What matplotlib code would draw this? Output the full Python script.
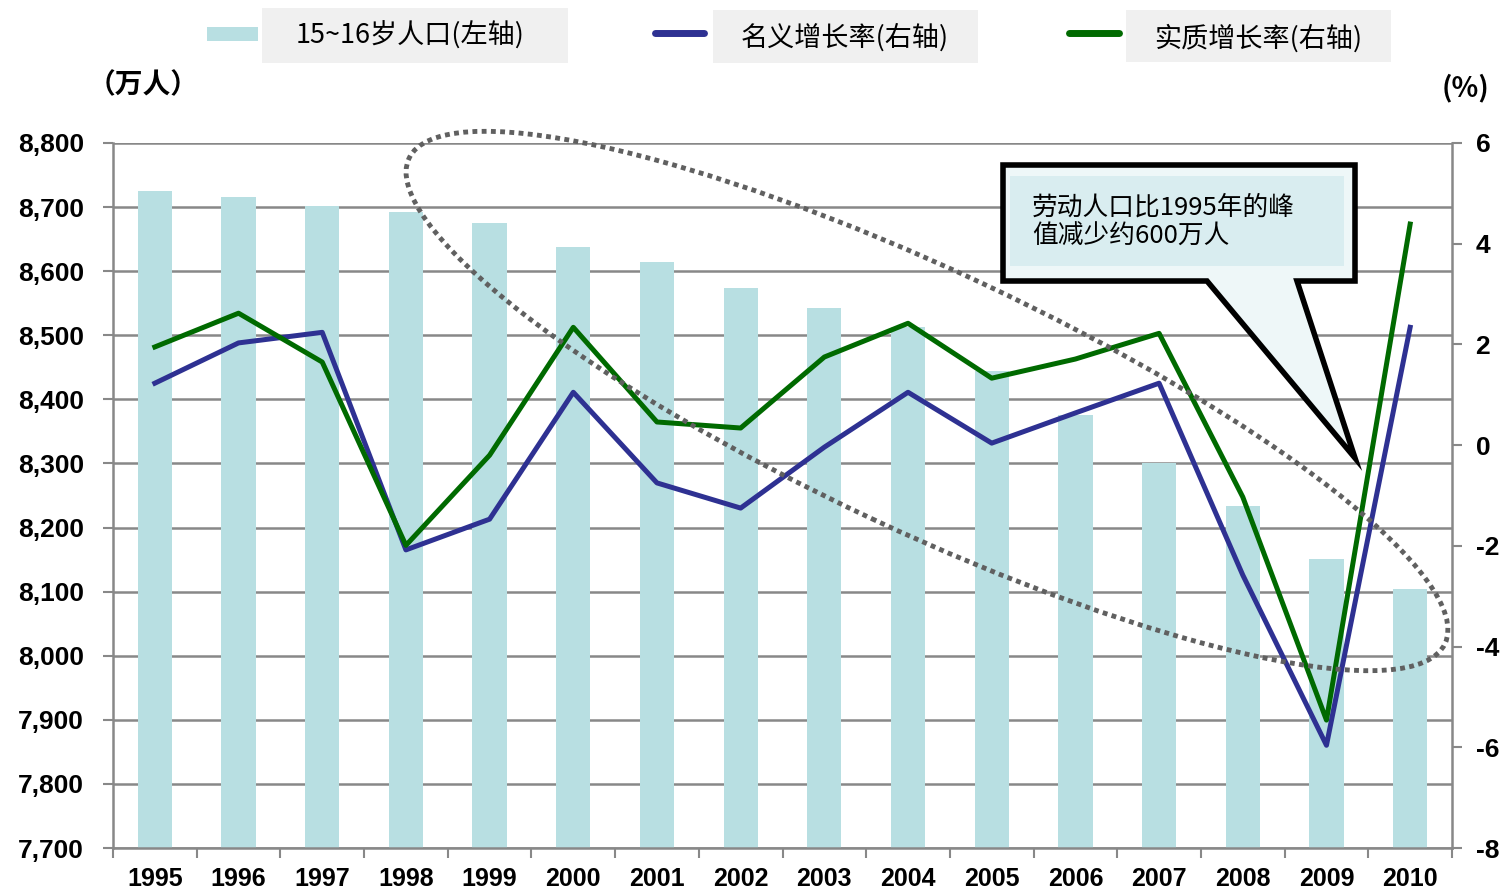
import matplotlib
matplotlib.use("Agg")
import matplotlib.pyplot as plt
from matplotlib.patches import Ellipse, Polygon, Rectangle
from matplotlib.lines import Line2D
from matplotlib.transforms import IdentityTransform
from matplotlib.ticker import FuncFormatter, FixedLocator
import numpy as np

# data
years = ["1995", "1996", "1997", "1998", "1999", "2000", "2001", "2002",
         "2003", "2004", "2005", "2006", "2007", "2008", "2009", "2010"]
population = [8725, 8716, 8702, 8692, 8675, 8638, 8614, 8574,
              8543, 8513, 8444, 8376, 8301, 8234, 8151, 8104]
nominal_growth = [1.23, 2.03, 2.24, -2.08, -1.47, 1.05, -0.75, -1.25,
                  -0.04, 1.05, 0.04, 0.64, 1.23, -2.58, -5.96, 2.34]
real_growth = [1.95, 2.62, 1.65, -1.99, -0.20, 2.34, 0.46, 0.34,
               1.75, 2.42, 1.33, 1.71, 2.22, -1.03, -5.46, 4.39]

left_ticks = [7700, 7800, 7900, 8000, 8100, 8200, 8300, 8400, 8500, 8600, 8700, 8800]
right_ticks = [-8, -6, -4, -2, 0, 2, 4, 6]

bar_color = "#B8DFE2"
blue = "#2E3192"
green = "#006A00"
grid_gray = "#888888"
cjk = ["Noto Sans CJK SC", "DejaVu Sans"]

plt.rcParams["font.family"] = ["Liberation Sans", "DejaVu Sans"]
plt.rcParams["axes.unicode_minus"] = False

W, H = 1501, 892
fig = plt.figure(figsize=(W / 100, H / 100), dpi=100)

def px(y):
    # top-down pixel row -> display coords
    return H - y

ax = fig.add_axes([113 / W, (H - 848) / H, (1452 - 113) / W, 705 / H])
x = np.arange(len(years))

ax.bar(x, population, width=0.41, color=bar_color, zorder=2)
ax.set_xlim(-0.5, len(years) - 0.5)
ax.set_ylim(7700, 8800)
ax.yaxis.set_major_locator(FixedLocator(left_ticks))
ax.yaxis.set_major_formatter(FuncFormatter(lambda v, p: f"{int(v):,}"))
ax.grid(axis="y", color=grid_gray, lw=1.8, zorder=0)
ax.set_axisbelow(True)

ax.set_xticks(x)
ax.set_xticklabels(years)
ax.set_xticks(np.arange(-0.5, len(years)), minor=True)
ax.tick_params(axis="x", which="major", length=0, pad=14, labelsize=18)
ax.tick_params(axis="x", which="minor", length=7, width=1.5, color=grid_gray)
ax.tick_params(axis="y", length=7, width=1.5, color=grid_gray, pad=14, labelsize=19)
for lab in ax.get_xticklabels() + ax.get_yticklabels():
    lab.set_fontweight("bold")

for s in ["top", "right"]:
    ax.spines[s].set_visible(False)
for s in ["left", "bottom"]:
    ax.spines[s].set_color(grid_gray)
    ax.spines[s].set_linewidth(1.8)

ax2 = ax.twinx()
ax2.set_ylim(-8, 6)
ax2.yaxis.set_major_locator(FixedLocator(right_ticks))
ax2.plot(x, nominal_growth, color=blue, lw=3.6, zorder=3)
ax2.plot(x, real_growth, color=green, lw=3.6, zorder=4)
ax2.tick_params(axis="y", length=7, width=1.5, color=grid_gray, pad=10, labelsize=19)
for lab in ax2.get_yticklabels():
    lab.set_fontweight("bold")
for s in ["top", "left", "bottom"]:
    ax2.spines[s].set_visible(False)
ax2.spines["right"].set_color(grid_gray)
ax2.spines["right"].set_linewidth(1.8)

# unit labels
fig.text(143 / W, px(85) / H, "（万人）", family=cjk, fontsize=20, fontweight="bold",
         ha="center", va="center")
fig.text(1466 / W, px(88) / H, "(%)", family=cjk, fontsize=20, fontweight="bold",
         ha="center", va="center")

# legend drawn by hand
ident = IdentityTransform()
boxes = [(262, 8, 568, 63), (713, 10, 978, 63), (1126, 10, 1391, 62)]
for x0, y0, x1, y1 in boxes:
    fig.add_artist(Rectangle((x0, px(y1)), x1 - x0, y1 - y0, transform=ident,
                             facecolor="#F0F0F0", edgecolor="none"))
fig.add_artist(Rectangle((207, px(41)), 51, 14, transform=ident,
                         facecolor=bar_color, edgecolor="none"))
fig.add_artist(Line2D([655, 704], [px(33), px(33)], transform=ident, color=blue,
                      lw=5, solid_capstyle="round"))
fig.add_artist(Line2D([1069, 1119], [px(33), px(33)], transform=ident, color=green,
                      lw=5, solid_capstyle="round"))
fig.text(410 / W, px(36) / H, "15~16岁人口(左轴)", family=cjk, fontsize=19.5,
         ha="center", va="center")
fig.text(845 / W, px(38) / H, "名义增长率(右轴)", family=cjk, fontsize=19.5,
         ha="center", va="center")
fig.text(1258 / W, px(38) / H, "实质增长率(右轴)", family=cjk, fontsize=19.5,
         ha="center", va="center")

# dotted ellipse
fig.add_artist(Ellipse((927, px(401)), 1144, 260, angle=-25.1, transform=ident,
                       fill=False, edgecolor="#606060", lw=3.5,
                       linestyle=(0, (1, 0.9)), zorder=10))

# callout
callout = [(1003, 165), (1355, 165), (1355, 281), (1297, 281), (1355, 458),
           (1207, 281), (1003, 281)]
fig.add_artist(Polygon([(a, px(b)) for a, b in callout], closed=True, transform=ident,
                       facecolor="#EEF7F8", edgecolor="black", lw=4,
                       joinstyle="miter", zorder=11))
fig.add_artist(Rectangle((1010, px(266)), 334, 90, transform=ident,
                         facecolor="#D9EDF0", edgecolor="none", zorder=12))
fig.text(1032 / W, px(222) / H, "劳动人口比1995年的峰\n值减少约600万人", family=cjk,
         fontsize=18.5, ha="left", va="center", linespacing=1.15, zorder=13)

fig.savefig("out.png", dpi=100)
